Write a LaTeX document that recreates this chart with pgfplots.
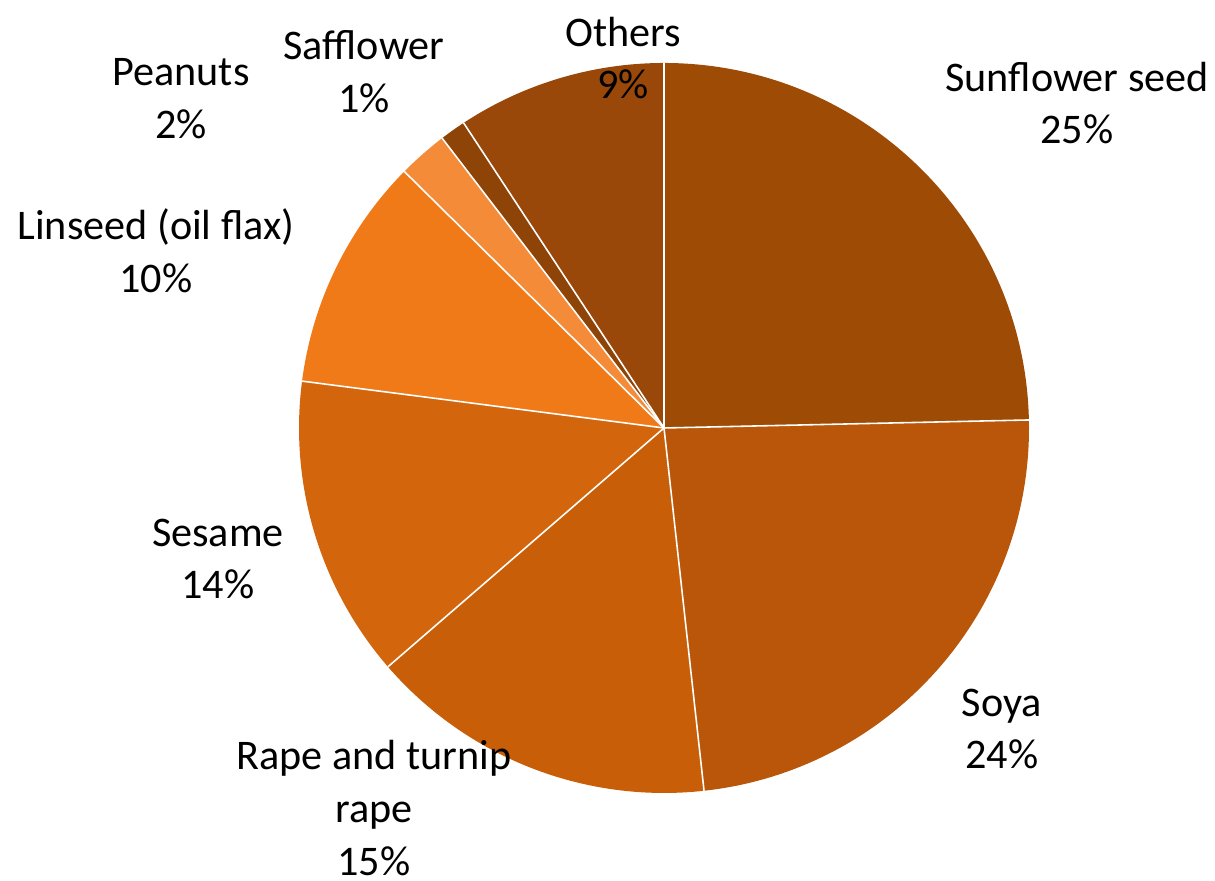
\documentclass[border=0pt]{standalone}
\usepackage{fontspec}
\setmainfont{Carlito}
\usepackage{pgfplots}
\usepackage{pgfplotstable}
\pgfplotsset{compat=1.18}
\definecolor{pie0}{HTML}{9E4B06}
\definecolor{pie1}{HTML}{B9560A}
\definecolor{pie2}{HTML}{C85E08}
\definecolor{pie3}{HTML}{D3660D}
\definecolor{pie4}{HTML}{F07A17}
\definecolor{pie5}{HTML}{F38B38}
\definecolor{pie6}{HTML}{8E4307}
\definecolor{pie7}{HTML}{99480A}
\pgfplotstableread{
name value
Sunflower 24.65
Soya 23.6
Rape 15.4
Sesame 13.4
Linseed 10.35
Peanuts 2.2
Safflower 1.15
Others 9.25
}\piedata
\begin{document}
\begin{tikzpicture}
\begin{axis}[x=1cm,y=1cm,xmin=-6.64,xmax=5.51,ymin=-4.53,ymax=4.28,hide axis,clip=false]
\path (axis cs:-6.64,-4.53) rectangle (axis cs:5.51,4.28);
\pgfmathsetmacro{\cum}{0}
\pgfplotsforeachungrouped \i in {0,...,7}{%
  \pgfplotstablegetelem{\i}{value}\of\piedata
  \pgfmathsetmacro{\s}{90-3.6*\cum}%
  \pgfmathsetmacro{\cum}{\cum+\pgfplotsretval}%
  \pgfmathsetmacro{\e}{90-3.6*\cum}%
  \edef\temp{\noexpand\fill[pie\i] (axis cs:0,0) -- (axis cs:{3.65*cos(\s)},{3.65*sin(\s)}) arc[start angle=\s, end angle=\e, radius=3.65cm] -- cycle;}%
  \temp
}
\pgfmathsetmacro{\cum}{0}
\pgfplotsforeachungrouped \i in {0,...,7}{%
  \pgfplotstablegetelem{\i}{value}\of\piedata
  \pgfmathsetmacro{\s}{90-3.6*\cum}%
  \pgfmathsetmacro{\cum}{\cum+\pgfplotsretval}%
  \edef\temp{\noexpand\draw[white,line width=0.45pt] (axis cs:0,0) -- (axis cs:{3.65*cos(\s)},{3.65*sin(\s)});}%
  \temp
}
\tikzset{lab/.style={align=center,inner sep=0pt,font=\fontsize{12}{15}\selectfont}}
\node[lab] at (axis cs:-0.41,3.70) {Others\\9\%};
\node[lab] at (axis cs:4.13,3.25) {Sunflower seed\\25\%};
\node[lab] at (axis cs:3.38,-3.01) {Soya\\24\%};
\node[lab] at (axis cs:-2.90,-3.80) {Rape and turnip\\rape\\15\%};
\node[lab] at (axis cs:-4.46,-1.31) {Sesame\\14\%};
\node[lab] at (axis cs:-5.08,1.77) {Linseed (oil flax)\\10\%};
\node[lab] at (axis cs:-4.83,3.29) {Peanuts\\2\%};
\node[lab] at (axis cs:-3.00,3.56) {Safflower\\1\%};
\end{axis}
\end{tikzpicture}
\end{document}
